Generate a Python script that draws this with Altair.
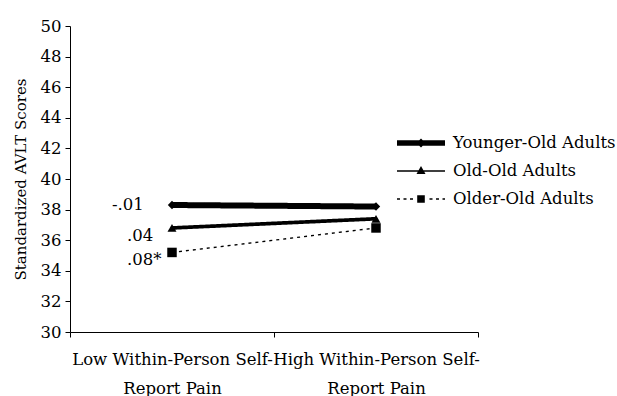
import altair as alt
import pandas as pd

# Pain conditions on the x axis and the three age groups
conditions = ["Low Within-Person Self-Report Pain", "High Within-Person Self-Report Pain"]
groups = ["Younger-Old Adults", "Old-Old Adults", "Older-Old Adults"]

# Standardized AVLT scores (low pain, high pain) per group
younger_old = [38.3, 38.2]
old_old = [36.8, 37.4]
older_old = [35.2, 36.8]

# Slope coefficients printed next to each line
slope_labels = ["-.01", ".04", ".08*"]

FONT = "DejaVu Serif"
FS = 16.5

rows = []
for g, vals, lab in zip(groups, [younger_old, old_old, older_old], slope_labels):
    for i, (c, v) in enumerate(zip(conditions, vals)):
        rows.append({"group": g, "condition": c, "pos": i + 0.5,
                     "score": v, "slope": lab if i == 0 else ""})
df = pd.DataFrame(rows)

# Two-line category labels
heads = [c.split("Report")[0] for c in conditions]
tails = ["Report" + c.split("Report")[1] for c in conditions]
label_expr = (
    f"datum.value == 0 ? ['{heads[0]}', '{tails[0]}'] : "
    f"datum.value == 1 ? ['{heads[1]}', '{tails[1]}'] : ''"
)

x = alt.X(
    "pos:Q",
    scale=alt.Scale(domain=[0, 2], nice=False, zero=False),
    axis=alt.Axis(
        values=[0, 1, 2], labelExpr=label_expr, labelOffset=102,
        labelOverlap=False, labelFlush=False, labelBound=False, labelLimit=0,
        title=None, grid=False, tickSize=5, labelPadding=14,
        labelLineHeight=29, labelFont=FONT, labelFontSize=FS,
        labelColor="black", domainColor="black", tickColor="black",
    ),
)
y = alt.Y(
    "score:Q",
    scale=alt.Scale(domain=[30, 50], nice=False, zero=False),
    axis=alt.Axis(
        values=list(range(30, 51, 2)), title="Standardized AVLT Scores",
        grid=False, tickSize=5, labelPadding=4, labelFont=FONT,
        labelFontSize=FS, labelColor="black", titleFont=FONT,
        titleFontSize=15, titleFontWeight="normal", titleColor="black",
        titlePadding=12, domainColor="black", tickColor="black",
    ),
)

base = alt.Chart(df).encode(x=x, y=y)

lines = base.mark_line(color="black").encode(
    detail="group:N",
    strokeWidth=alt.StrokeWidth(
        "group:N", scale=alt.Scale(domain=groups, range=[6, 1.4, 1.8]), legend=None
    ),
    strokeDash=alt.StrokeDash(
        "group:N", scale=alt.Scale(domain=groups, range=[[1, 0], [1, 0], [3, 4]]),
        legend=None,
    ),
)

points = base.mark_point(filled=True, color="black", opacity=1).encode(
    shape=alt.Shape(
        "group:N",
        scale=alt.Scale(domain=groups, range=["diamond", "triangle-up", "square"]),
        legend=None,
    ),
    size=alt.Size(
        "group:N", scale=alt.Scale(domain=groups, range=[70, 90, 56]), legend=None
    ),
)

# Legend keys: filled glyphs of a line segment with the group's marker on it
def bar(x0, x1, h):
    return f"M{x0:.2f},{-h}L{x1:.2f},{-h}L{x1:.2f},{h}L{x0:.2f},{h}Z"

def dashed(x0, x1, h, dash=0.3, gap=0.35, skip=0.42):
    parts = []
    p = x0
    while p < x1:
        e = min(p + dash, x1)
        if e < -skip or p > skip:
            parts.append(bar(p, e, h))
        p = e + gap
    return "".join(parts)

legend_paths = [
    bar(-2.4, 2.4, 0.28) + "M0,-0.45L0.45,0L0,0.45L-0.45,0Z",
    bar(-2.4, 2.4, 0.07) + "M0,-0.5L0.45,0.3L-0.45,0.3Z",
    dashed(-2.4, 2.4, 0.08) + "M-0.38,-0.38L0.38,-0.38L0.38,0.38L-0.38,0.38Z",
]

legend_keys = base.transform_filter("false").mark_point(
    filled=True, color="black", opacity=1, size=400
).encode(
    shape=alt.Shape(
        "group:N",
        scale=alt.Scale(domain=groups, range=legend_paths),
        legend=alt.Legend(
            title=None, orient="none", legendX=341, legendY=107,
            symbolSize=400, labelOffset=22, rowPadding=9, padding=0,
            symbolFillColor="black", symbolStrokeWidth=0, symbolOpacity=1,
            labelFont=FONT, labelFontSize=FS, labelColor="black",
            labelLimit=300,
        ),
    )
)

slope_first = base.transform_filter(
    alt.datum.slope == slope_labels[0]
).mark_text(align="left", baseline="middle", dx=-60, dy=0, font=FONT,
            fontSize=FS, color="black").encode(text="slope:N")

slope_rest = base.transform_filter(
    (alt.datum.slope != "") & (alt.datum.slope != slope_labels[0])
).mark_text(align="left", baseline="middle", dx=-45, dy=8, font=FONT,
            fontSize=FS, color="black").encode(text="slope:N")

chart = (
    alt.layer(lines, points, legend_keys, slope_first, slope_rest)
    .resolve_scale(shape="independent")
    .properties(
        width=408, height=306,
        autosize=alt.AutoSizeParams(type="none"),
        padding={"left": 70, "top": 26, "right": 139, "bottom": 64},
        background="white",
    )
    .configure_view(stroke=None)
)

chart.save("out.html", embed_options={"renderer": "svg", "actions": False})
